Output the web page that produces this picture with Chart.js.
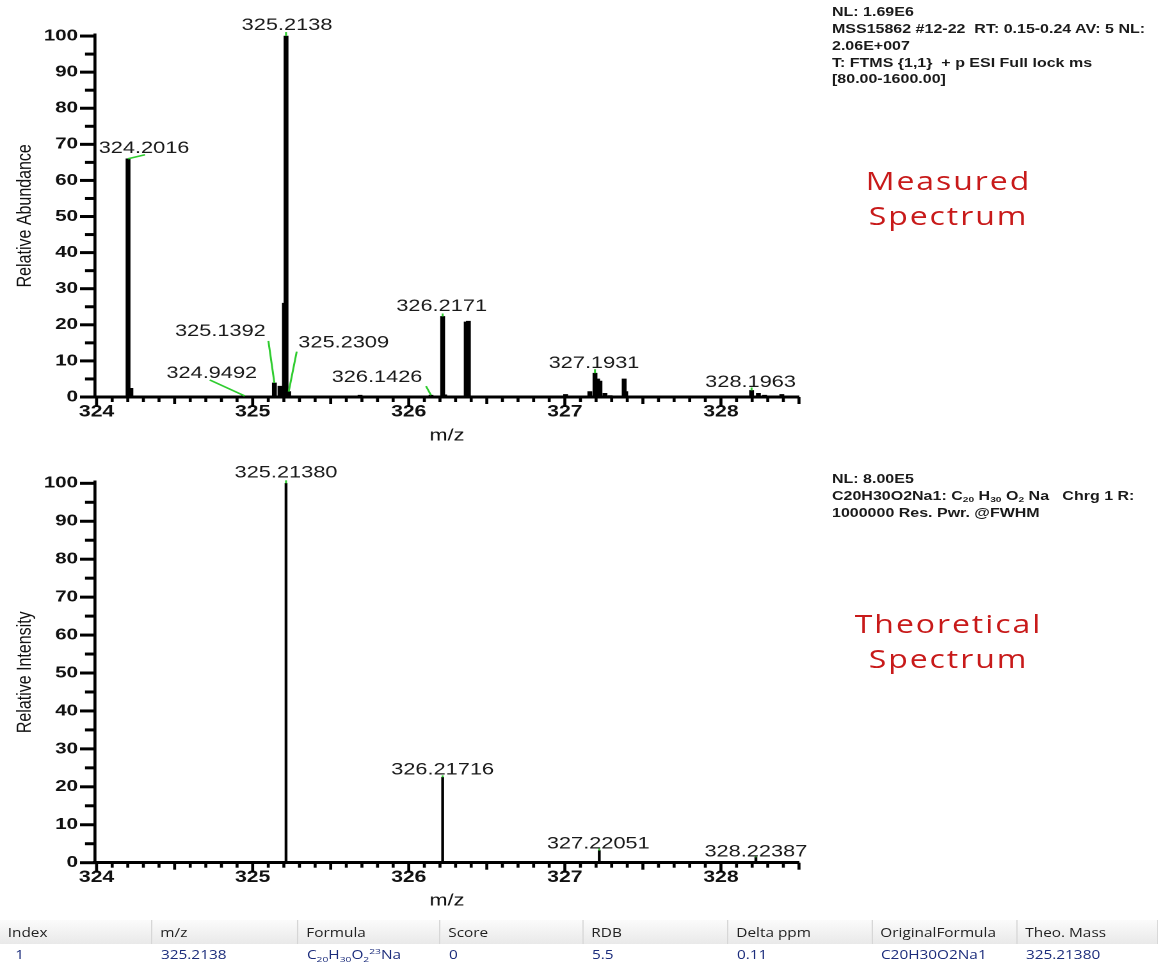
<!DOCTYPE html>
<html>
<head>
<meta charset="utf-8">
<script src="https://cdn.jsdelivr.net/npm/chart.js@4.4.1/dist/chart.umd.min.js"></script>
<style>
  html, body { margin: 0; padding: 0; background: #fff; overflow: hidden; }
  /* the source picture is stretched sideways, so the whole page is too */
  #page { position: absolute; left: 0; top: 0; width: 905px; height: 964px;
          transform: scaleX(1.28); transform-origin: 0 0; font-family: "Liberation Sans", Arial, sans-serif; }
  canvas { position: absolute; left: 0; }
  .info { position: absolute; left: 650px; font-weight: bold; font-size: 12.5px; line-height: 16.75px; color: #1a1a1a; white-space: nowrap; }
  .info sub { font-size: 8px; line-height: 0; vertical-align: -2px; }
  .tag { position: absolute; left: 641px; width: 200px; text-align: center; font-family: "Open Sans", sans-serif;
         font-size: 25px; line-height: 35px; letter-spacing: 1.5px; color: #c81a1a; }
  table { position: absolute; left: 0; top: 920px; width: 905px; border-collapse: collapse; table-layout: fixed;
          font-family: "Open Sans", sans-serif; font-size: 12px; }
  th { height: 24px; padding: 0 0 0 6px; text-align: left; font-weight: normal; color: #222;
       background: linear-gradient(#fbfbfb, #e9e9e9); border-right: 1px solid #d6d6d6; }
  td { height: 20px; padding: 0 0 0 7px; color: #1c2d7c; }
  td sub, td sup { font-size: 8px; line-height: 0; }
</style>
</head>
<body>
<div id="page">
  <canvas id="measuredChart" width="660" height="450" style="top:0"></canvas>
  <canvas id="theoreticalChart" width="660" height="470" style="top:445px"></canvas>

  <div class="info" style="top:4.3px">NL: 1.69E6<br>MSS15862 #12-22&nbsp; RT: 0.15-0.24 AV: 5 NL:<br>2.06E+007<br>T: FTMS {1,1}&nbsp; + p ESI Full lock ms<br>[80.00-1600.00]</div>
  <div class="info" style="top:471.3px">NL: 8.00E5<br>C20H30O2Na1: C<sub>20</sub> H<sub>30</sub> O<sub>2</sub> Na&nbsp;&nbsp; Chrg 1 R:<br>1000000 Res. Pwr. @FWHM</div>

  <div class="tag" style="top:162.8px">Measured<br>Spectrum</div>
  <div class="tag" style="top:606px">Theoretical<br>Spectrum</div>

  <table>
    <colgroup>
      <col style="width:118.75px"><col style="width:114.06px"><col style="width:110.94px"><col style="width:111.72px">
      <col style="width:113.28px"><col style="width:112.5px"><col style="width:113.28px"><col style="width:110.16px">
    </colgroup>
    <tr><th>Index</th><th>m/z</th><th>Formula</th><th>Score</th><th>RDB</th><th>Delta ppm</th><th>OriginalFormula</th><th>Theo. Mass</th></tr>
    <tr><td style="padding-left:12px">1</td><td>325.2138</td><td>C<sub>20</sub>H<sub>30</sub>O<sub>2</sub><sup>23</sup>Na</td><td>0</td><td>5.5</td><td>0.11</td><td>C20H30O2Na1</td><td>325.21380</td></tr>
  </table>
</div>

<script>
// spectra.js

const S = 1.28; // sideways stretch of the reference picture

// --- Data ---
const xTicks = [324, 325, 326, 327, 328];
const yTicks = [0, 10, 20, 30, 40, 50, 60, 70, 80, 90, 100];

// measured profile peaks (m/z, relative abundance)
const measMz  = [324.2016, 324.2200, 324.9492, 325.1392, 325.1750, 325.2035, 325.2138, 325.2309,
                 325.6880, 326.1426, 326.2171, 326.2300, 326.3680, 326.3820, 327.0050, 327.1600,
                 327.1931, 327.2100, 327.2250, 327.2570, 327.2900, 327.3800, 327.3900, 328.1963,
                 328.2400, 328.2800, 328.3900];
const measInt = [66, 2.4, 0.3, 3.9, 3.0, 26, 100, 1.5,
                 0.5, 0.5, 22.3, 0.6, 20.8, 21.0, 0.7, 1.5,
                 6.6, 5.0, 4.4, 1.0, 0.4, 5.0, 1.5, 1.8,
                 1.0, 0.5, 0.7];

// theoretical isotope pattern
const theoMz  = [325.21380, 326.21716, 327.22051, 328.22387];
const theoInt = [100, 22.5, 3.2, 1.4];

// labelled peaks
const measLabelMz  = [324.2016, 325.2138, 324.9492, 325.1392, 325.2309, 326.1426, 326.2171, 327.1931, 328.1963];
const measLabelInt = [66, 100, 0.3, 3.9, 1.5, 0.5, 22.3, 6.6, 1.8];

// label placement: [text dx, text dy, leader dx, leader dy] from the peak top
const measLabelPos = [
  [16, -6, 17, -4], [1, -6, 0, -4], [-33, -18, -35, -16], [-54, -47, -6, -42], [55, -44, 8, -40],
  [-54, -13, -5, -9], [-1, -5.5, 0, -3], [-1, -5, 0, -4], [-1, -3.5, 0, -3]
];
const theoLabelPos = [[0, -6, 0, -3], [0, -3, 0, -2], [-1, -2, 0, -2], [0, -1, 0, -2]];

Chart.defaults.font.family = '"Liberation Sans", Arial, sans-serif';

// --- Plugin: minor ticks, peak labels, green leaders ---
const spectrumDecor = {
  id: 'spectrumDecor',
  afterDatasetsDraw(chart, args, opts) {
    const { ctx, scales: { x, y } } = chart;
    ctx.save();
    ctx.font = '17px "Liberation Sans", Arial, sans-serif';
    ctx.textAlign = 'center';
    opts.mz.forEach((m, i) => {
      const ax = x.getPixelForValue(m);
      const ay = y.getPixelForValue(opts.int[i]);
      const [dx, dy, lx, ly] = opts.pos[i];
      ctx.strokeStyle = '#2fcc2f';
      ctx.lineWidth = 1.5;
      ctx.beginPath();
      ctx.moveTo(ax + lx / S, ay + ly);
      ctx.lineTo(ax, ay);
      ctx.stroke();
      ctx.fillStyle = '#1a1a1a';
      ctx.fillText(opts.text[i], ax + dx / S, ay + dy);
    });
    ctx.restore();
  },
  afterDraw(chart) {
    const { ctx, chartArea: area, scales: { x, y } } = chart;
    ctx.save();
    ctx.strokeStyle = '#000';
    ctx.lineWidth = 3;
    for (let v = 0; v <= 100; v += 5) {
      const py = y.getPixelForValue(v);
      const len = (v % 10 === 0 ? 15 : 10) / S;
      ctx.beginPath();
      ctx.moveTo(area.left - len, py);
      ctx.lineTo(area.left, py);
      ctx.stroke();
    }
    ctx.lineWidth = 3 / S;
    for (let k = 0; k <= 45; k++) {
      const px = x.getPixelForValue(324 + k / 10);
      const len = k % 10 === 0 ? 10 : (k % 5 === 0 ? 7 : 5);
      ctx.beginPath();
      ctx.moveTo(px, area.bottom);
      ctx.lineTo(px, area.bottom + len);
      ctx.stroke();
    }
    ctx.restore();
  }
};

// --- Chart builder ---
function spectrumChart(id, mz, inten, barWidth, yTitle, padTop, xHeight, labels) {
  return new Chart(document.getElementById(id), {
    type: 'bar',
    data: {
      datasets: [{
        data: mz.map((m, i) => ({ x: m, y: inten[i] })),
        backgroundColor: '#000',
        borderWidth: 0,
        barThickness: barWidth
      }]
    },
    options: {
      responsive: false,
      animation: false,
      devicePixelRatio: 2,
      events: [],
      layout: { padding: { top: padTop, right: 35.8, left: 0, bottom: 0 } },
      plugins: { legend: { display: false }, tooltip: { enabled: false }, spectrumDecor: labels },
      scales: {
        x: {
          type: 'linear', min: 323.99, max: 328.5, offset: false,
          afterBuildTicks: s => { s.ticks = xTicks.map(v => ({ value: v })); },
          afterFit: s => { s.height = xHeight; },
          grid: { display: false, drawTicks: false, offset: false },
          border: { display: true, color: '#000', width: 3 },
          ticks: { padding: 5, maxRotation: 0, color: '#111', font: { size: 16.5, weight: 'bold' } },
          title: { display: true, text: 'm/z', color: '#111', font: { size: 17 }, padding: { top: 0, bottom: 4 } }
        },
        y: {
          min: 0, max: 100.4,
          afterBuildTicks: s => { s.ticks = yTicks.map(v => ({ value: v })); },
          afterFit: s => { s.width = 95 / S; },
          grid: { display: false, drawTicks: false },
          border: { display: true, color: '#000', width: 3 / S },
          ticks: { padding: 17 / S, color: '#111', font: { size: 16, weight: 'bold' } },
          title: { display: true, text: yTitle, color: '#111', font: { size: 16 }, padding: { top: 10, bottom: 0 } }
        }
      }
    },
    plugins: [spectrumDecor]
  });
}

// --- Render ---
spectrumChart('measuredChart', measMz, measInt, 4 / S, 'Relative Abundance', 34.6, 53, {
  mz: measLabelMz, int: measLabelInt, pos: measLabelPos,
  text: measLabelMz.map(m => m.toFixed(4))
});

spectrumChart('theoreticalChart', theoMz, theoInt, 2 / S, 'Relative Intensity', 36.8, 52.3, {
  mz: theoMz, int: theoInt, pos: theoLabelPos,
  text: theoMz.map(m => m.toFixed(5))
});
</script>
</body>
</html>
